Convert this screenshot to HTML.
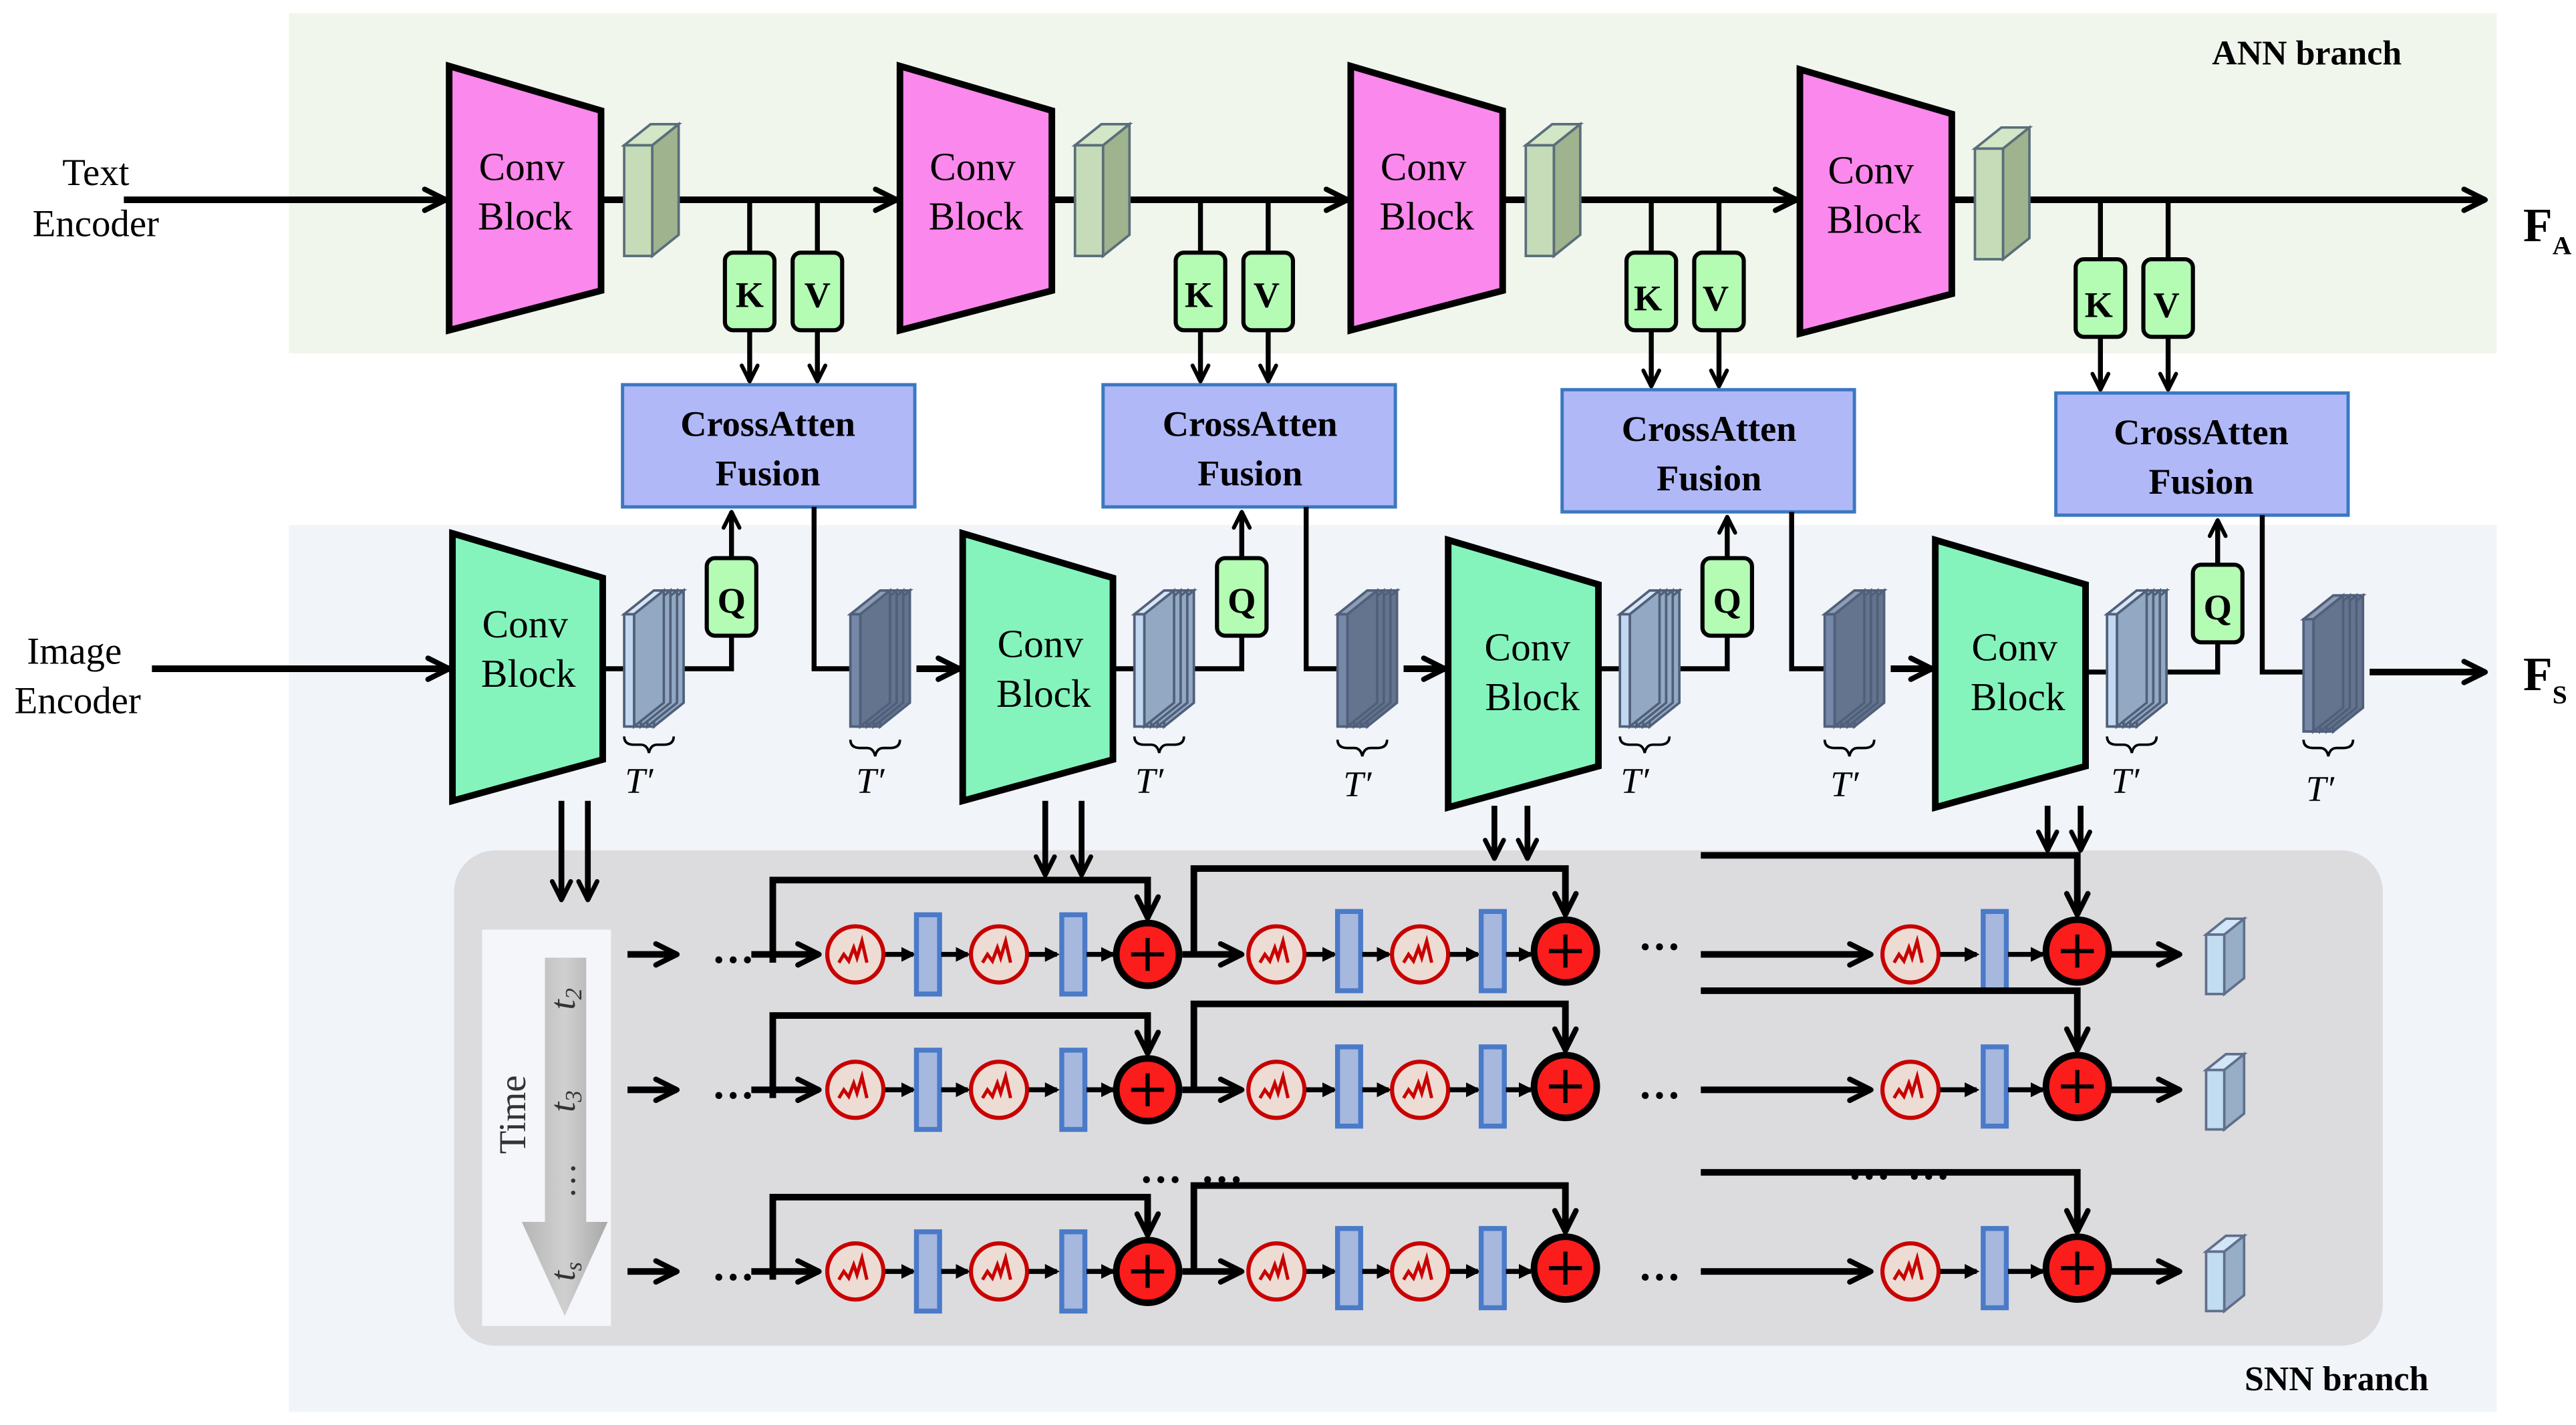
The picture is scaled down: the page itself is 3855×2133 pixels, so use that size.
<!DOCTYPE html>
<html><head><meta charset="utf-8"><style>
html,body{margin:0;padding:0;background:#fff;}
svg{display:block;}
svg text, svg tspan{font-family:"Liberation Serif","DejaVu Serif","Noto Serif CJK SC",serif !important;}
</style></head><body>
<svg id="s" width="3855" height="2133" viewBox="0 0 1560 863" preserveAspectRatio="none" xmlns="http://www.w3.org/2000/svg" font-family="Liberation Serif, serif">
<defs>
<marker id="ah" viewBox="0 0 10 10" refX="9" refY="5" markerWidth="4" markerHeight="4" orient="auto-start-reverse" markerUnits="strokeWidth">
<path d="M1,1 L9,5 L1,9" fill="none" stroke="#000" stroke-width="2" stroke-linecap="round" stroke-linejoin="round"/></marker>
<marker id="ah2" viewBox="0 0 10 10" refX="8" refY="5" markerWidth="3" markerHeight="3" orient="auto" markerUnits="strokeWidth">
<path d="M0,0 L10,5 L0,10 z" fill="#000"/></marker>
<linearGradient id="tg2" x1="0" y1="0" x2="1" y2="0"><stop offset="0" stop-color="#b5b5b5"/><stop offset="0.5" stop-color="#d0d0d0"/><stop offset="1" stop-color="#a8a8a8"/></linearGradient>
</defs>
<rect x="175" y="8" width="1337" height="206" fill="#f0f6ec"/>
<rect x="175" y="318" width="1337" height="537" fill="#f1f4f9"/>
<rect x="275" y="515" width="1168" height="300" rx="25" fill="#dcdcdf"/>
<g id="g"></g>
<g font-size="24" text-anchor="middle" fill="#000">
<text x="58" y="112" font-size="23">Text</text><text x="58" y="143" font-size="23">Encoder</text>
<text x="45" y="402" font-size="23">Image</text><text x="47" y="432" font-size="23">Encoder</text>
<text x="1397" y="39" font-size="21" font-weight="bold">ANN branch</text>
<text x="1415" y="842" font-size="21" font-weight="bold">SNN branch</text>
<text x="1528" y="146" font-size="29" font-weight="bold" text-anchor="start">F<tspan font-size="16" dy="8">A</tspan></text>
<text x="1528" y="418" font-size="29" font-weight="bold" text-anchor="start">F<tspan font-size="16" dy="8">S</tspan></text>
<text x="316" y="109">Conv</text><text x="318" y="139">Block</text>
<text x="589" y="109">Conv</text><text x="591" y="139">Block</text>
<text x="862" y="109">Conv</text><text x="864" y="139">Block</text>
<text x="1133" y="111">Conv</text><text x="1135" y="141">Block</text>
<text x="318" y="386">Conv</text><text x="320" y="416">Block</text>
<text x="630" y="398">Conv</text><text x="632" y="428">Block</text>
<text x="925" y="400">Conv</text><text x="928" y="430">Block</text>
<text x="1220" y="400">Conv</text><text x="1222" y="430">Block</text>
<g font-weight="bold" font-size="22">
<text x="465" y="264">CrossAtten</text><text x="465" y="294">Fusion</text>
<text x="757" y="264">CrossAtten</text><text x="757" y="294">Fusion</text>
<text x="1035" y="267">CrossAtten</text><text x="1035" y="297">Fusion</text>
<text x="1333" y="269">CrossAtten</text><text x="1333" y="299">Fusion</text>
<text x="454" y="186">K</text><text x="495" y="186">V</text>
<text x="726" y="186">K</text><text x="767" y="186">V</text>
<text x="998" y="188">K</text><text x="1039" y="188">V</text>
<text x="1271" y="192">K</text><text x="1312" y="192">V</text>
<text x="443" y="371">Q</text><text x="752" y="371">Q</text><text x="1046" y="371">Q</text><text x="1343" y="375">Q</text>
</g>
<g font-style="italic" font-size="22">
<text x="387" y="480">T′</text><text x="527" y="480">T′</text><text x="696" y="480">T′</text><text x="822" y="482">T′</text><text x="990" y="480">T′</text><text x="1117" y="482">T′</text><text x="1287" y="480">T′</text><text x="1405" y="485">T′</text>
</g>
<g font-weight="bold" font-size="26">
<text x="444" y="590">···</text><text x="444" y="672">···</text><text x="444" y="782">···</text>
<text x="1005" y="582">···</text><text x="1005" y="672">···</text><text x="1005" y="782">···</text>
<text x="703" y="723">···</text><text x="740" y="723">···</text>
<text x="1132" y="721">···</text><text x="1168" y="721">···</text>
</g>
</g>
<rect x="292" y="563" width="78" height="240" fill="#f4f6fa"/>
<path d="M330,580 H355 V740 H368 L342,797 L316,740 H330 Z" fill="url(#tg2)"/>
<g font-size="22" fill="#333" font-style="italic">
<text transform="translate(318,675) rotate(-90)" font-style="normal" text-anchor="middle" font-size="23">Time</text>
<text transform="translate(348,605) rotate(-90)" text-anchor="middle">t<tspan font-size="14" dy="4">2</tspan></text>
<text transform="translate(348,667) rotate(-90)" text-anchor="middle">t<tspan font-size="14" dy="4">3</tspan></text>
<text transform="translate(348,715) rotate(-90)" text-anchor="middle" font-style="normal">…</text>
<text transform="translate(348,770) rotate(-90)" text-anchor="middle">t<tspan font-size="14" dy="4">s</tspan></text>
</g>
</svg>
<script>
var g=document.getElementById('g'),h='';
function L(d,w,m){h+='<path d="'+d+'" fill="none" stroke="#000" stroke-width="'+(w||4)+'" '+(m?'marker-end="url(#'+m+')"':'')+'/>';}
function R(x,y,w,hh,f,s,sw,rx){h+='<rect x="'+x+'" y="'+y+'" width="'+w+'" height="'+hh+'" fill="'+f+'" stroke="'+s+'" stroke-width="'+sw+'" rx="'+(rx||0)+'"/>';}
function cube(x,y,w,hh,d,front,side,top,st){
 h+='<polygon points="'+x+','+y+' '+(x+d)+','+(y-d*0.8)+' '+(x+w+d)+','+(y-d*0.8)+' '+(x+w)+','+y+'" fill="'+top+'" stroke="'+st+'" stroke-width="1.5"/>';
 h+='<polygon points="'+(x+w)+','+y+' '+(x+w+d)+','+(y-d*0.8)+' '+(x+w+d)+','+(y+hh-d*0.8)+' '+(x+w)+','+(y+hh)+'" fill="'+side+'" stroke="'+st+'" stroke-width="1.5"/>';
 R(x,y,w,hh,front,st,1.5);
}
function stack(x,y,dark){
 var f=dark?'#7688a8':'#c2d8f0',s=dark?'#64748f':'#93a9c3',t=dark?'#8e9cb6':'#d6e6f6';
 for(var i=3;i>=0;i--)cube(x+i*4,y,6,68,18,f,s,t,'#50607a');
}
function brace(x,y){L('M'+x+','+y+' q0,5 6,5 h4 q4,0 5,5 q1,-5 5,-5 h4 q6,0 6,-5',1.5);}
var X=[272,545,818,1090],dy=[0,0,0,2],CB=[377,668,946,1245],CY=[233,233,236,238];
L('M75,121 H270',4,'ah');
for(var i=0;i<4;i++){
 var x=X[i],d=dy[i];
 h+='<polygon points="'+x+','+(40+d)+' '+(x+92)+','+(67+d)+' '+(x+92)+','+(176+d)+' '+x+','+(200+d)+'" fill="#fb88ec" stroke="#000" stroke-width="4"/>';
 var end=i<3?X[i+1]-2:1505;
 L('M'+(x+92)+',121 H'+end,4,'ah');
 cube(x+106,88+d,17,67,16,'#c6dcb8','#9fb38f','#d3e6c6','#5a6e7a');
 var ky=153+d*2;
 [182,223].forEach(function(o){L('M'+(x+o)+',121 V'+ky,3);L('M'+(x+o)+','+(ky+47)+' V'+(CY[i]-2),3,'ah');R(x+o-15,ky,30,47,'#b4fcb4','#000',2.5,5);});
 R(CB[i],CY[i],177,74,'#b0b8f8','#3b78c0',2);
}
var B=[274,583,877,1172],bt=[323,323,327,327],Q=[443,752,1046,1343],O=[493,791,1085,1370],D=[515,810,1105,1395],Y=[405,405,405,407];
L('M92,405 H272',4,'ah');
for(var i=0;i<4;i++){
 var x=B[i],t=bt[i];
 h+='<polygon points="'+x+','+t+' '+(x+91)+','+(t+27)+' '+(x+91)+','+(t+137)+' '+x+','+(t+162)+'" fill="#84f4bc" stroke="#000" stroke-width="4"/>';
 var q=Q[i],qt=(i==3?342:338);
 L('M'+(x+91)+','+Y[i]+' H'+q+' V'+(qt+47),3);
 L('M'+q+','+qt+' V'+(CY[i]+77),3,'ah');
 R(q-15,qt,30,47,'#b4fcb4','#000',2.5,5);
 stack(x+104,372,false);brace(x+104,446);
 var by=CY[i]+74;
 var nx=i<3?B[i+1]-2:1505;
 L('M'+O[i]+','+by+' V'+Y[i]+' H'+D[i],3);
 stack(D[i],372+(i==3?3:0),true);brace(D[i],448);
 L('M'+(D[i]+40)+','+Y[i]+' H'+nx,4,'ah');
}
[[340,356,485,545],[633,655,485,530],[905,925,488,520],[1240,1260,488,515]].forEach(function(a){L('M'+a[0]+','+a[2]+' V'+a[3],3.5,'ah');L('M'+a[1]+','+a[2]+' V'+a[3],3.5,'ah');});
function neuron(cx,cy){h+='<circle cx="'+cx+'" cy="'+cy+'" r="17" fill="#ecdcd4" stroke="#c80000" stroke-width="2.5"/><path d="M'+(cx-10)+','+(cy+5)+' l3,-5 l3,4 l3,-8 l2,6 l3,-10 l3,13" fill="none" stroke="#c80000" stroke-width="2"/>';}
function bar(x,cy){R(x,cy-24,14,48,'#a6b8de','#4a7ac8',3);}
function plus(cx,cy){h+='<circle cx="'+cx+'" cy="'+cy+'" r="19" fill="#fb1c1c" stroke="#000" stroke-width="4"/><path d="M'+(cx-10)+','+cy+' H'+(cx+10)+' M'+cx+','+(cy-10)+' V'+(cy+10)+'" stroke="#000" stroke-width="2.5"/>';}
function sm(a,b,y){L('M'+a+','+y+' H'+b,3,'ah2');}
[578,660,770].forEach(function(y,r){
 L('M380,'+y+' H410',4,'ah');
 L('M455,'+y+' H496',4,'ah');
 neuron(518,y);sm(536,553,y);bar(555,y);sm(570,586,y);neuron(605,y);sm(623,640,y);bar(643,y);sm(658,674,y);plus(695,y);
 L('M716,'+y+' H752',4,'ah');
 neuron(773,y);sm(791,808,y);bar(810,y-2);sm(825,841,y);neuron(860,y);sm(878,895,y);bar(897,y-2);sm(912,927,y);plus(948,y-2);
 L('M1030,'+y+' H1133',4,'ah');
 neuron(1157,y);sm(1175,1197,y);bar(1201,y-2);sm(1216,1237,y);plus(1258,y-2);
 L('M1278,'+y+' H1320',4,'ah');
 cube(1336,y-12,11,36,12,'#c2dcf2','#97aec6','#d2e6f8','#60708a');
 L('M468,'+(y+5)+' V'+(y-45)+' H695 V'+(y-22),4,'ah');
 L('M723,'+y+' V'+(y-52)+' H948 V'+(y-24),4,'ah');
 L('M1030,'+(y-60)+' H1258 V'+(y-24),4,'ah');
});
g.innerHTML=h;
</script>
</body></html>
